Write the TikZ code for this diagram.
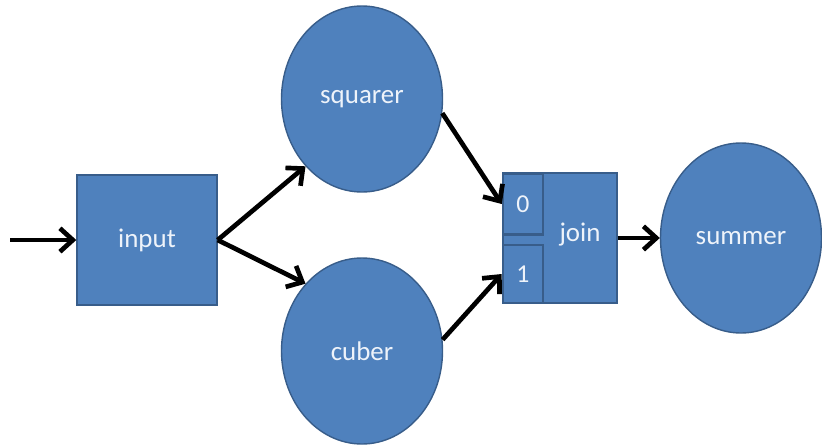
\documentclass[tikz,border=0pt]{standalone}
\usepackage{fontspec}
\setmainfont{Carlito}
\usetikzlibrary{arrows.meta,shapes.geometric}
\definecolor{fillblue}{HTML}{4F81BD}
\definecolor{edgeblue}{HTML}{385D8A}
\definecolor{txt}{HTML}{EEF3FA}
\begin{document}
\begin{tikzpicture}[x=0.03cm,y=-0.03cm,
  blob/.style={ellipse,draw=edgeblue,fill=fillblue,line width=1.2pt,inner sep=0pt,
    text=txt,font=\fontsize{23}{27}\selectfont},
  box/.style={rectangle,draw=edgeblue,fill=fillblue,line width=1.2pt,inner sep=0pt,
    text=txt,font=\fontsize{23}{27}\selectfont},
  port/.style={rectangle,draw=edgeblue,fill=fillblue,line width=2.2pt,inner sep=0pt,
    text=txt,font=\fontsize{22}{26}\selectfont},
  conn/.style={-{Straight Barb[length=11pt,width=20pt,line width=4pt]},line width=4pt,black}]
\useasboundingbox (0,0) rectangle (822,444);
\node[box,minimum width=140*0.03cm,minimum height=130*0.03cm] (input) at (147,240) {input};
\node[blob,minimum width=161*0.03cm,minimum height=186*0.03cm] (squarer) at (362,99) {squarer};
\node[blob,minimum width=161*0.03cm,minimum height=186*0.03cm] (cuber) at (362,351) {cuber};
\node[box,minimum width=114*0.03cm,minimum height=130*0.03cm] (join) at (560,238) {};
\node[port,minimum width=40*0.03cm,minimum height=61*0.03cm] (p0) at (523,204) {0};
\node[port,minimum width=40*0.03cm,minimum height=58*0.03cm] (p1) at (523,274) {1};
\node[text=txt,font=\fontsize{23}{27}\selectfont,inner sep=0pt] (jointxt) at (580,235) {join};
\node[blob,minimum width=161*0.03cm,minimum height=190*0.03cm] (summer) at (741,238) {summer};
\coordinate (src) at (10,240);
\draw[conn] (src) -- (input.west);
\draw[conn] (input.east) -- (squarer.230);
\draw[conn] (input.east) -- (cuber.130);
\draw[conn] (squarer.-10) -- (p0.west);
\draw[conn] (cuber.8) -- (p1.west);
\draw[conn] (join.east) -- (summer.west);
\end{tikzpicture}
\end{document}
